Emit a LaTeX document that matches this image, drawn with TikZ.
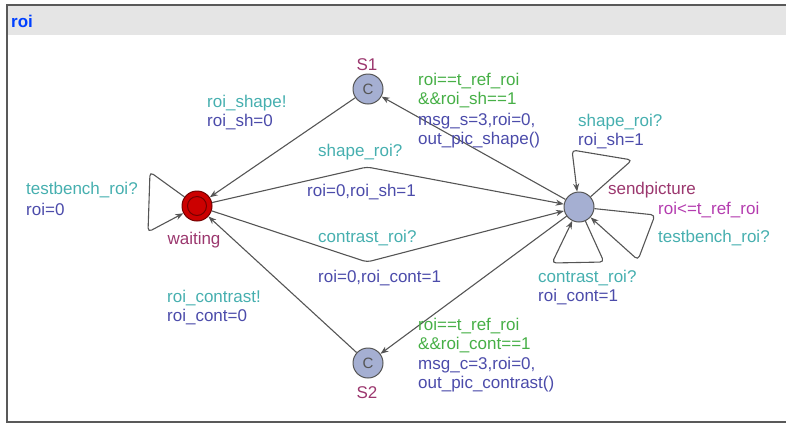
\documentclass[tikz,border=0pt]{standalone}
\usepackage{fontspec}
\setmainfont{Liberation Sans}
\usepackage{tikz}
\usetikzlibrary{arrows.meta}
\usepackage{xcolor}
\definecolor{ColSync}{RGB}{70,175,175}
\definecolor{ColUpd}{RGB}{75,75,170}
\definecolor{ColGuard}{RGB}{70,175,70}
\definecolor{ColName}{RGB}{155,55,110}
\definecolor{ColInv}{RGB}{180,60,175}
\definecolor{ColLoc}{RGB}{165,175,210}
\definecolor{ColEdge}{RGB}{85,85,85}
\tikzstyle{Txt}=[inner sep=0pt,anchor=west,align=left,font=\fontsize{17}{19}\selectfont]
\tikzstyle{LabSync}=[Txt,text=ColSync]
\tikzstyle{LabUpd}=[Txt,text=ColUpd]
\tikzstyle{LabGuard}=[Txt,text=ColGuard]
\tikzstyle{LabInv}=[Txt,text=ColInv]
\tikzstyle{LabName}=[Txt,anchor=center,text=ColName]
\tikzstyle{Location}=[circle,draw=ColEdge,fill=ColLoc,line width=1pt,minimum size=30pt,inner sep=0pt]
\tikzstyle{Committed}=[Location,text=ColEdge,font=\fontsize{15}{15}\selectfont]
\tikzstyle{Current}=[Location,draw=red!45!black,fill=red!80!black]
\tikzstyle{EdgeAuto}=[ColEdge,line width=1.1pt,rounded corners=4pt,
-{Stealth[length=8pt,width=6pt,inset=2.5pt]}]

\begin{document}
\begin{tikzpicture}[x=1pt,y=-1pt]
        \useasboundingbox (0,0) rectangle (786,424);
        % frame of the template
        \fill[gray!20] (7,6) rectangle (786,35);
        \draw[gray!70!black,line width=2pt] (786,5) -- (6.5,5) -- (6.5,422) -- (786,422);
        \node[Txt,text=blue!75!cyan,font=\bfseries\fontsize{17}{19}\selectfont](title)at(11,21){roi};
        % locations
        \node[Current](wait)at(197,206){};
        \draw[red!45!black,line width=1pt](wait)circle(9.5);
        \node[Location](send)at(579,207){};
        \node[Committed](s1)at(368,89){C};
        \node[Committed](s2)at(368,363){C};
        \node[LabName](nwait)at(194,240){waiting};
        \node[LabName](nsend)at(652,190){sendpicture};
        \node[LabName](ns1)at(367,65){S1};
        \node[LabName](ns2)at(367,393){S2};
        \node[LabInv](inv)at(658,210){roi<=t\_ref\_roi};
        % nails and loop corners
        \coordinate(n1)at(367,167);
        \coordinate(n2)at(367,262);
        \coordinate(w1)at(150,172);
        \coordinate(w2)at(148,232);
        \coordinate(t1)at(632,160);
        \coordinate(t2)at(572,150);
        \coordinate(r1)at(655,215);
        \coordinate(r2)at(638,260);
        \coordinate(b1)at(604,262);
        \coordinate(b2)at(552,263);
        % edges
        \draw[EdgeAuto](send)--(s1);
        \draw[EdgeAuto](s1)--(wait);
        \draw[EdgeAuto](wait)--(n1)--(send);
        \draw[EdgeAuto](wait)--(n2)--(send);
        \draw[EdgeAuto](send)--(s2);
        \draw[EdgeAuto](s2)--(wait);
        \draw[EdgeAuto](wait)--(w1)--(w2)--(wait);
        \draw[EdgeAuto](send)--(t1)--(t2)--(send);
        \draw[EdgeAuto](send)--(r1)--(r2)--(send);
        \draw[EdgeAuto](send)--(b1)--(b2)--(send);
        % labels
        \node[LabSync](l1)at(26,190){testbench\_roi?};
        \node[LabUpd](l2)at(26,209){roi=0};
        \node[LabSync](l3)at(207,103){roi\_shape!};
        \node[LabUpd](l4)at(207,122){roi\_sh=0};
        \node[LabSync](l5)at(318,152){shape\_roi?};
        \node[LabUpd](l6)at(307,192){roi=0,roi\_sh=1};
        \node[LabSync](l7)at(318,238){contrast\_roi?};
        \node[LabUpd](l8)at(318,278){roi=0,roi\_cont=1};
        \node[LabSync](l9)at(167,298){roi\_contrast!};
        \node[LabUpd](l10)at(167,317){roi\_cont=0};
        \node[LabGuard](g1)at(418,91){roi==t\_ref\_roi\\\&\&roi\_sh==1};
        \node[LabUpd](u1)at(418,131){msg\_s=3,roi=0,\\out\_pic\_shape()};
        \node[LabGuard](g2)at(418,336){roi==t\_ref\_roi\\\&\&roi\_cont==1};
        \node[LabUpd](u2)at(418,375){msg\_c=3,roi=0,\\out\_pic\_contrast()};
        \node[LabSync](l11)at(578,122){shape\_roi?};
        \node[LabUpd](l12)at(578,141){roi\_sh=1};
        \node[LabSync](l13)at(658,238){testbench\_roi?};
        \node[LabSync](l14)at(538,278){contrast\_roi?};
        \node[LabUpd](l15)at(538,297){roi\_cont=1};
    \end{tikzpicture}
\end{document}
